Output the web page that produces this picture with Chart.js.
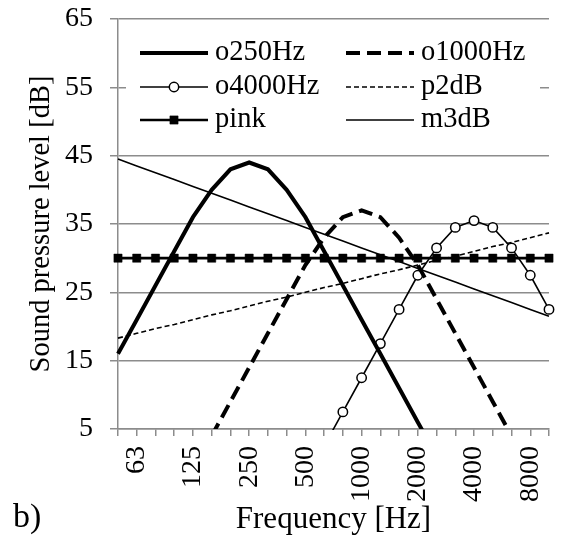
<!DOCTYPE html>
<html lang="en">
<head>
    <meta charset="UTF-8">
    <title>Sound pressure level b)</title>
    <script src="https://cdn.jsdelivr.net/npm/chart.js"></script>
    <style>
        body { margin: 0; background: #fff; }
    </style>
</head>
<body>
    <div style="width: 562px; height: 535px;">
        <canvas id="splChart"></canvas>
    </div>
    <script>
        // 1/3 octave bands, only every third one gets a label
        const freqBands = ['50', '63', '80', '100', '125', '160', '200', '250', '315', '400', '500', '630',
                           '800', '1000', '1250', '1600', '2000', '2500', '3150', '4000', '5000', '6300', '8000', '10000'];
        const xTickLabels = ['', '63', '', '', '125', '', '', '250', '', '', '500', '',
                             '', '1000', '', '', '2000', '', '', '4000', '', '', '8000', ''];

        const o250Hz  = [16, 21, 26, 31, 36, 40, 43, 44, 43, 40, 36, 31, 26, 21, 16, 11, 6, 1, null, null, null, null, null, null];
        const o1000Hz = [null, null, null, null, null, 4, 9, 14, 19, 24, 29, 33, 36, 37, 36, 33, 29, 24, 19, 14, 9, 4, null, null];
        const o4000Hz = [null, null, null, null, null, null, null, null, null, null, null, 2.5,
                         7.5, 12.5, 17.5, 22.5, 27.5, 31.5, 34.5, 35.5, 34.5, 31.5, 27.5, 22.5];
        const p2dB    = [18.3, 19.0, 19.7, 20.3, 21.0, 21.7, 22.3, 23.0, 23.7, 24.3, 25.0, 25.7,
                         26.3, 27.0, 27.7, 28.3, 29.0, 29.7, 30.3, 31.0, 31.7, 32.3, 33.0, 33.7];
        const pink    = [30, 30, 30, 30, 30, 30, 30, 30, 30, 30, 30, 30,
                         30, 30, 30, 30, 30, 30, 30, 30, 30, 30, 30, 30];
        const m3dB    = [44.5, 43.5, 42.5, 41.5, 40.5, 39.5, 38.5, 37.5, 36.5, 35.5, 34.5, 33.5,
                         32.5, 31.5, 30.5, 29.5, 28.5, 27.5, 26.5, 25.5, 24.5, 23.5, 22.5, 21.5];

        const yMin = 5, yMax = 65, yStep = 10;

        const serif = '"Liberation Serif", "Times New Roman", serif';
        const gridGray = '#8c8c8c';

        // legend laid out in two fixed columns inside the plot, like the original
        const boxLegend = {
            id: 'boxLegend',
            afterDraw(chart) {
                const ctx = chart.ctx;
                const area = chart.chartArea;
                ctx.save();
                ctx.fillStyle = '#fff';
                ctx.fillRect(area.left + 8, area.top + 3, area.right - area.left - 17, 130);

                const colX = [area.left + 22, area.left + 228];
                const rowY = [area.top + 34, area.top + 68, area.top + 101];
                const sampleLen = 68;
                ctx.font = '28.5px ' + serif;
                ctx.textBaseline = 'middle';
                chart.data.datasets.forEach((ds, i) => {
                    const x = colX[i % 2];
                    const y = rowY[Math.floor(i / 2)];
                    ctx.strokeStyle = ds.borderColor;
                    ctx.lineWidth = ds.borderWidth;
                    ctx.setLineDash(ds.borderDash || []);
                    ctx.beginPath();
                    ctx.moveTo(x, y);
                    ctx.lineTo(x + sampleLen, y);
                    ctx.stroke();
                    ctx.setLineDash([]);
                    if (ds.pointRadius > 0) {
                        const cx = x + sampleLen / 2;
                        ctx.fillStyle = ds.pointBackgroundColor;
                        ctx.lineWidth = ds.pointBorderWidth;
                        ctx.beginPath();
                        if (ds.pointStyle === 'rect') {
                            const s = ds.pointRadius * Math.SQRT1_2;
                            ctx.rect(cx - s, y - s, 2 * s, 2 * s);
                        } else {
                            ctx.arc(cx, y, ds.pointRadius, 0, Math.PI * 2);
                        }
                        ctx.fill();
                        ctx.stroke();
                    }
                    ctx.fillStyle = '#000';
                    ctx.fillText(ds.label, x + sampleLen + 7, y);
                });

                ctx.font = '34px ' + serif;
                ctx.textBaseline = 'alphabetic';
                ctx.fillText('b)', 13, chart.height - 8);
                ctx.restore();
            }
        };

        const ctx = document.getElementById('splChart').getContext('2d');
        const splChart = new Chart(ctx, {
            type: 'line',
            data: {
                labels: freqBands,
                datasets: [
                    { label: 'o250Hz', data: o250Hz, borderColor: '#000', borderWidth: 4, pointRadius: 0 },
                    { label: 'o1000Hz', data: o1000Hz, borderColor: '#000', borderWidth: 4, borderDash: [14, 7], pointRadius: 0 },
                    { label: 'o4000Hz', data: o4000Hz, borderColor: '#000', borderWidth: 1.6,
                      pointStyle: 'circle', pointRadius: 4.7, pointBorderWidth: 1.5,
                      pointBackgroundColor: '#fff', pointBorderColor: '#000',
                      clip: { left: 8, right: 8, top: 8, bottom: 1 } },
                    { label: 'p2dB', data: p2dB, borderColor: '#000', borderWidth: 1.6, borderDash: [5, 3], pointRadius: 0 },
                    { label: 'pink', data: pink, borderColor: '#000', borderWidth: 2.6,
                      pointStyle: 'rect', pointRadius: 5.8, pointBorderWidth: 0.5,
                      pointBackgroundColor: '#000', pointBorderColor: '#000' },
                    { label: 'm3dB', data: m3dB, borderColor: '#000', borderWidth: 1.6, pointRadius: 0 }
                ]
            },
            options: {
                responsive: true,
                maintainAspectRatio: false,
                animation: false,
                events: [],
                layout: { padding: { top: 19, right: 13, left: 0, bottom: 0 } },
                elements: { line: { tension: 0 } },
                plugins: {
                    legend: { display: false },
                    tooltip: { enabled: false }
                },
                scales: {
                    x: {
                        type: 'category',
                        offset: false,
                        afterFit: (scale) => {
                            scale.height = 106;
                            scale.paddingLeft = 0;
                            scale.paddingRight = 0;
                        },
                        grid: { display: true, drawOnChartArea: false, drawTicks: true, tickLength: 7, color: gridGray, lineWidth: 1.5 },
                        border: { display: true, color: gridGray, width: 1.5 },
                        ticks: {
                            autoSkip: false,
                            minRotation: 90,
                            maxRotation: 90,
                            padding: 10,
                            color: '#000',
                            font: { family: serif, size: 28 },
                            callback: (value, index) => xTickLabels[index]
                        },
                        title: {
                            display: true,
                            text: 'Frequency [Hz]',
                            color: '#000',
                            font: { family: serif, size: 31, lineHeight: 1 },
                            padding: { top: 0, bottom: 0 }
                        }
                    },
                    y: {
                        min: yMin,
                        max: yMax,
                        afterFit: (scale) => {
                            scale.width = 118;
                            scale.paddingTop = 0;
                            scale.paddingBottom = 0;
                        },
                        grid: { color: gridGray, lineWidth: 1.5, drawTicks: true, tickLength: 8 },
                        border: { display: true, color: gridGray, width: 1.5 },
                        ticks: {
                            stepSize: yStep,
                            padding: 17,
                            color: '#000',
                            font: { family: serif, size: 28 }
                        },
                        title: {
                            display: true,
                            text: 'Sound pressure level [dB]',
                            color: '#000',
                            font: { family: serif, size: 28.5, lineHeight: 1 },
                            padding: { top: 27, bottom: 0 }
                        }
                    }
                }
            },
            plugins: [boxLegend]
        });
    </script>
</body>
</html>
